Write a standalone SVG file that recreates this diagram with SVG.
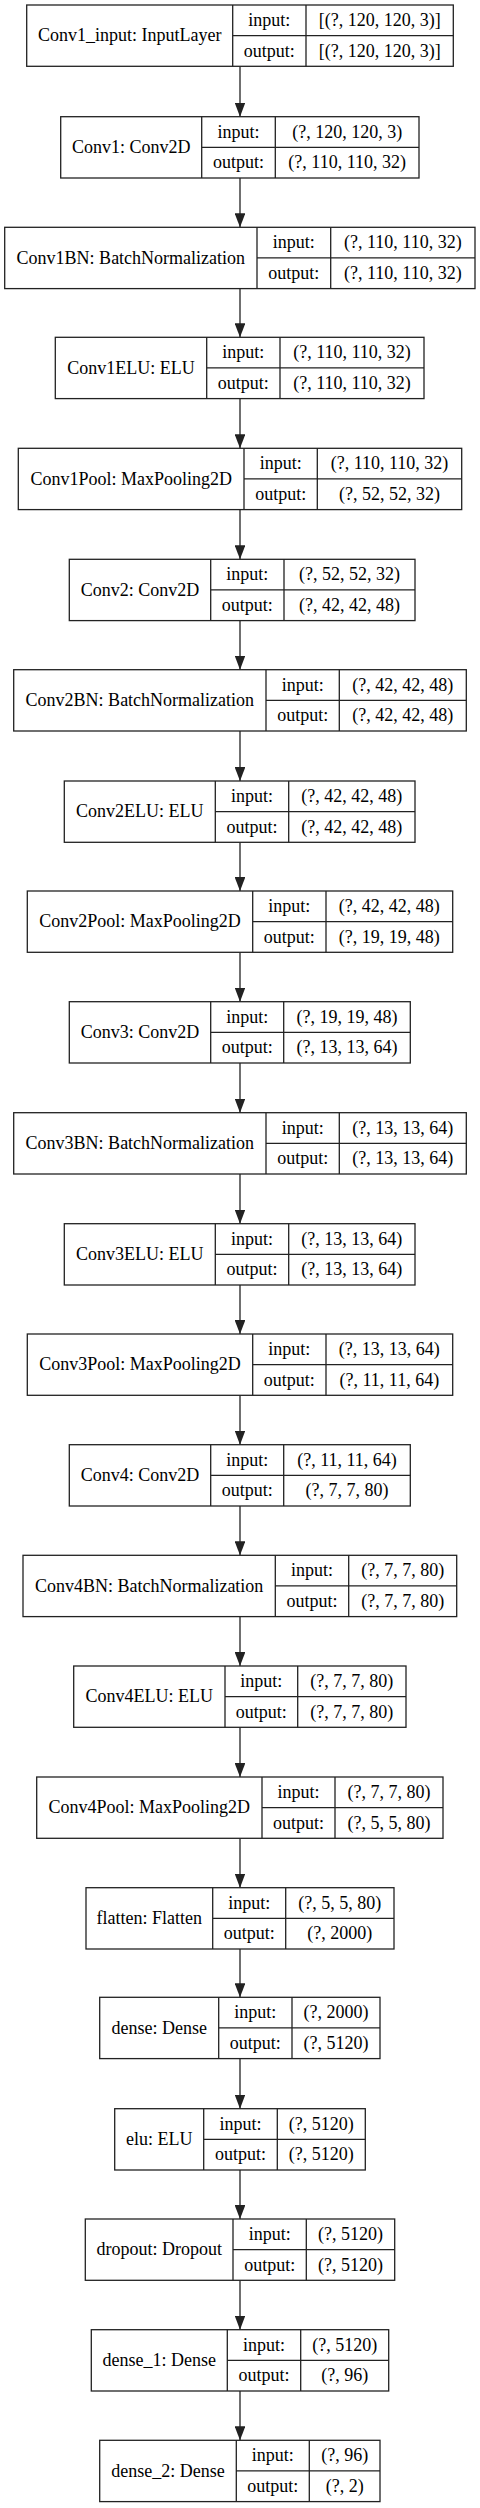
<svg xmlns="http://www.w3.org/2000/svg" width="480" height="2508" viewBox="0 0 480 2508">
<style>
.node rect{fill:#fff;stroke:#222;stroke-width:1.3}
.node path{fill:none;stroke:#222;stroke-width:1.3}
.node text{font-family:"Liberation Serif","Times New Roman",serif;font-size:18px;text-anchor:middle;fill:#000}
.edges line{stroke:#222;stroke-width:1.3}
</style>
<defs>
<marker id="ah" viewBox="0 0 14 10.7" markerWidth="14" markerHeight="10.7" refX="14" refY="5.35" orient="auto" markerUnits="userSpaceOnUse">
<path d="M0,0 L14,5.35 L0,10.7 Z" fill="#222"/>
</marker>
</defs>
<rect x="0" y="0" width="480" height="2508" fill="#fff"/>
<g class="edges">
<line x1="240" y1="66.3" x2="240" y2="116.7" marker-end="url(#ah)"/>
<line x1="240" y1="178" x2="240" y2="227.3" marker-end="url(#ah)"/>
<line x1="240" y1="288.6" x2="240" y2="337.3" marker-end="url(#ah)"/>
<line x1="240" y1="398.6" x2="240" y2="448.3" marker-end="url(#ah)"/>
<line x1="240" y1="509.6" x2="240" y2="559.3" marker-end="url(#ah)"/>
<line x1="240" y1="620.6" x2="240" y2="669.7" marker-end="url(#ah)"/>
<line x1="240" y1="731" x2="240" y2="781" marker-end="url(#ah)"/>
<line x1="240" y1="842.3" x2="240" y2="891" marker-end="url(#ah)"/>
<line x1="240" y1="952.3" x2="240" y2="1001.7" marker-end="url(#ah)"/>
<line x1="240" y1="1063" x2="240" y2="1112.7" marker-end="url(#ah)"/>
<line x1="240" y1="1174" x2="240" y2="1223.7" marker-end="url(#ah)"/>
<line x1="240" y1="1285" x2="240" y2="1334" marker-end="url(#ah)"/>
<line x1="240" y1="1395.3" x2="240" y2="1444.7" marker-end="url(#ah)"/>
<line x1="240" y1="1506" x2="240" y2="1555.3" marker-end="url(#ah)"/>
<line x1="240" y1="1616.6" x2="240" y2="1666" marker-end="url(#ah)"/>
<line x1="240" y1="1727.3" x2="240" y2="1777" marker-end="url(#ah)"/>
<line x1="240" y1="1838.3" x2="240" y2="1887.7" marker-end="url(#ah)"/>
<line x1="240" y1="1949" x2="240" y2="1997.3" marker-end="url(#ah)"/>
<line x1="240" y1="2058.6" x2="240" y2="2108.7" marker-end="url(#ah)"/>
<line x1="240" y1="2170" x2="240" y2="2219" marker-end="url(#ah)"/>
<line x1="240" y1="2280.3" x2="240" y2="2329.7" marker-end="url(#ah)"/>
<line x1="240" y1="2391" x2="240" y2="2440.3" marker-end="url(#ah)"/>
</g>
<g id="n1" class="node"><rect x="26.7" y="5" width="426.6" height="61.3"/><path d="M232.7 5V66.3M232.7 35.65H453.3M306 5V66.3"/><text x="129.7" y="41.45">Conv1_input: InputLayer</text><text x="269.35" y="26.15">input:</text><text x="379.65" y="26.15">[(?, 120, 120, 3)]</text><text x="269.35" y="56.75">output:</text><text x="379.65" y="56.75">[(?, 120, 120, 3)]</text></g>
<g id="n2" class="node"><rect x="60.7" y="116.7" width="358.3" height="61.3"/><path d="M201.7 116.7V178M201.7 147.35H419M275.3 116.7V178"/><text x="131.2" y="153.15">Conv1: Conv2D</text><text x="238.5" y="137.85">input:</text><text x="347.15" y="137.85">(?, 120, 120, 3)</text><text x="238.5" y="168.45">output:</text><text x="347.15" y="168.45">(?, 110, 110, 32)</text></g>
<g id="n3" class="node"><rect x="4.7" y="227.3" width="470.3" height="61.3"/><path d="M257 227.3V288.6M257 257.95H475M330.7 227.3V288.6"/><text x="130.85" y="263.75">Conv1BN: BatchNormalization</text><text x="293.85" y="248.45">input:</text><text x="402.85" y="248.45">(?, 110, 110, 32)</text><text x="293.85" y="279.05">output:</text><text x="402.85" y="279.05">(?, 110, 110, 32)</text></g>
<g id="n4" class="node"><rect x="55.3" y="337.3" width="368.7" height="61.3"/><path d="M206.7 337.3V398.6M206.7 367.95H424M280 337.3V398.6"/><text x="131" y="373.75">Conv1ELU: ELU</text><text x="243.35" y="358.45">input:</text><text x="352" y="358.45">(?, 110, 110, 32)</text><text x="243.35" y="389.05">output:</text><text x="352" y="389.05">(?, 110, 110, 32)</text></g>
<g id="n5" class="node"><rect x="18.3" y="448.3" width="443.4" height="61.3"/><path d="M244 448.3V509.6M244 478.95H461.7M317.3 448.3V509.6"/><text x="131.15" y="484.75">Conv1Pool: MaxPooling2D</text><text x="280.65" y="469.45">input:</text><text x="389.5" y="469.45">(?, 110, 110, 32)</text><text x="280.65" y="500.05">output:</text><text x="389.5" y="500.05">(?, 52, 52, 32)</text></g>
<g id="n6" class="node"><rect x="69.3" y="559.3" width="345.7" height="61.3"/><path d="M210.7 559.3V620.6M210.7 589.95H415M284 559.3V620.6"/><text x="140" y="595.75">Conv2: Conv2D</text><text x="247.35" y="580.45">input:</text><text x="349.5" y="580.45">(?, 52, 52, 32)</text><text x="247.35" y="611.05">output:</text><text x="349.5" y="611.05">(?, 42, 42, 48)</text></g>
<g id="n7" class="node"><rect x="13.7" y="669.7" width="452.6" height="61.3"/><path d="M266 669.7V731M266 700.35H466.3M339.3 669.7V731"/><text x="139.85" y="706.15">Conv2BN: BatchNormalization</text><text x="302.65" y="690.85">input:</text><text x="402.8" y="690.85">(?, 42, 42, 48)</text><text x="302.65" y="721.45">output:</text><text x="402.8" y="721.45">(?, 42, 42, 48)</text></g>
<g id="n8" class="node"><rect x="64.3" y="781" width="350.7" height="61.3"/><path d="M215.3 781V842.3M215.3 811.65H415M288.7 781V842.3"/><text x="139.8" y="817.45">Conv2ELU: ELU</text><text x="252" y="802.15">input:</text><text x="351.85" y="802.15">(?, 42, 42, 48)</text><text x="252" y="832.75">output:</text><text x="351.85" y="832.75">(?, 42, 42, 48)</text></g>
<g id="n9" class="node"><rect x="27.3" y="891" width="425.4" height="61.3"/><path d="M252.7 891V952.3M252.7 921.65H452.7M326 891V952.3"/><text x="140" y="927.45">Conv2Pool: MaxPooling2D</text><text x="289.35" y="912.15">input:</text><text x="389.35" y="912.15">(?, 42, 42, 48)</text><text x="289.35" y="942.75">output:</text><text x="389.35" y="942.75">(?, 19, 19, 48)</text></g>
<g id="n10" class="node"><rect x="69.3" y="1001.7" width="341" height="61.3"/><path d="M210.7 1001.7V1063M210.7 1032.35H410.3M283.7 1001.7V1063"/><text x="140" y="1038.15">Conv3: Conv2D</text><text x="247.2" y="1022.85">input:</text><text x="347" y="1022.85">(?, 19, 19, 48)</text><text x="247.2" y="1053.45">output:</text><text x="347" y="1053.45">(?, 13, 13, 64)</text></g>
<g id="n11" class="node"><rect x="13.7" y="1112.7" width="452.6" height="61.3"/><path d="M266 1112.7V1174M266 1143.35H466.3M339.3 1112.7V1174"/><text x="139.85" y="1149.15">Conv3BN: BatchNormalization</text><text x="302.65" y="1133.85">input:</text><text x="402.8" y="1133.85">(?, 13, 13, 64)</text><text x="302.65" y="1164.45">output:</text><text x="402.8" y="1164.45">(?, 13, 13, 64)</text></g>
<g id="n12" class="node"><rect x="64.3" y="1223.7" width="350.7" height="61.3"/><path d="M215.3 1223.7V1285M215.3 1254.35H415M288.7 1223.7V1285"/><text x="139.8" y="1260.15">Conv3ELU: ELU</text><text x="252" y="1244.85">input:</text><text x="351.85" y="1244.85">(?, 13, 13, 64)</text><text x="252" y="1275.45">output:</text><text x="351.85" y="1275.45">(?, 13, 13, 64)</text></g>
<g id="n13" class="node"><rect x="27.3" y="1334" width="425.4" height="61.3"/><path d="M252.7 1334V1395.3M252.7 1364.65H452.7M326 1334V1395.3"/><text x="140" y="1370.45">Conv3Pool: MaxPooling2D</text><text x="289.35" y="1355.15">input:</text><text x="389.35" y="1355.15">(?, 13, 13, 64)</text><text x="289.35" y="1385.75">output:</text><text x="389.35" y="1385.75">(?, 11, 11, 64)</text></g>
<g id="n14" class="node"><rect x="69.3" y="1444.7" width="341" height="61.3"/><path d="M210.7 1444.7V1506M210.7 1475.35H410.3M283.7 1444.7V1506"/><text x="140" y="1481.15">Conv4: Conv2D</text><text x="247.2" y="1465.85">input:</text><text x="347" y="1465.85">(?, 11, 11, 64)</text><text x="247.2" y="1496.45">output:</text><text x="347" y="1496.45">(?, 7, 7, 80)</text></g>
<g id="n15" class="node"><rect x="23" y="1555.3" width="433.7" height="61.3"/><path d="M275.3 1555.3V1616.6M275.3 1585.95H456.7M348.7 1555.3V1616.6"/><text x="149.15" y="1591.75">Conv4BN: BatchNormalization</text><text x="312" y="1576.45">input:</text><text x="402.7" y="1576.45">(?, 7, 7, 80)</text><text x="312" y="1607.05">output:</text><text x="402.7" y="1607.05">(?, 7, 7, 80)</text></g>
<g id="n16" class="node"><rect x="73.7" y="1666" width="332.3" height="61.3"/><path d="M225 1666V1727.3M225 1696.65H406M297.7 1666V1727.3"/><text x="149.35" y="1702.45">Conv4ELU: ELU</text><text x="261.35" y="1687.15">input:</text><text x="351.85" y="1687.15">(?, 7, 7, 80)</text><text x="261.35" y="1717.75">output:</text><text x="351.85" y="1717.75">(?, 7, 7, 80)</text></g>
<g id="n17" class="node"><rect x="36.7" y="1777" width="406.3" height="61.3"/><path d="M262 1777V1838.3M262 1807.65H443M335 1777V1838.3"/><text x="149.35" y="1813.45">Conv4Pool: MaxPooling2D</text><text x="298.5" y="1798.15">input:</text><text x="389" y="1798.15">(?, 7, 7, 80)</text><text x="298.5" y="1828.75">output:</text><text x="389" y="1828.75">(?, 5, 5, 80)</text></g>
<g id="n18" class="node"><rect x="86" y="1887.7" width="308" height="61.3"/><path d="M212.7 1887.7V1949M212.7 1918.35H394M285.7 1887.7V1949"/><text x="149.35" y="1924.15">flatten: Flatten</text><text x="249.2" y="1908.85">input:</text><text x="339.85" y="1908.85">(?, 5, 5, 80)</text><text x="249.2" y="1939.45">output:</text><text x="339.85" y="1939.45">(?, 2000)</text></g>
<g id="n19" class="node"><rect x="99.7" y="1997.3" width="280.3" height="61.3"/><path d="M218.7 1997.3V2058.6M218.7 2027.95H380M292 1997.3V2058.6"/><text x="159.2" y="2033.75">dense: Dense</text><text x="255.35" y="2018.45">input:</text><text x="336" y="2018.45">(?, 2000)</text><text x="255.35" y="2049.05">output:</text><text x="336" y="2049.05">(?, 5120)</text></g>
<g id="n20" class="node"><rect x="114.7" y="2108.7" width="250.6" height="61.3"/><path d="M203.7 2108.7V2170M203.7 2139.35H365.3M277.3 2108.7V2170"/><text x="159.2" y="2145.15">elu: ELU</text><text x="240.5" y="2129.85">input:</text><text x="321.3" y="2129.85">(?, 5120)</text><text x="240.5" y="2160.45">output:</text><text x="321.3" y="2160.45">(?, 5120)</text></g>
<g id="n21" class="node"><rect x="85.3" y="2219" width="309.4" height="61.3"/><path d="M233 2219V2280.3M233 2249.65H394.7M306.3 2219V2280.3"/><text x="159.15" y="2255.45">dropout: Dropout</text><text x="269.65" y="2240.15">input:</text><text x="350.5" y="2240.15">(?, 5120)</text><text x="269.65" y="2270.75">output:</text><text x="350.5" y="2270.75">(?, 5120)</text></g>
<g id="n22" class="node"><rect x="91.3" y="2329.7" width="297.4" height="61.3"/><path d="M227.3 2329.7V2391M227.3 2360.35H388.7M300.7 2329.7V2391"/><text x="159.3" y="2366.15">dense_1: Dense</text><text x="264" y="2350.85">input:</text><text x="344.7" y="2350.85">(?, 5120)</text><text x="264" y="2381.45">output:</text><text x="344.7" y="2381.45">(?, 96)</text></g>
<g id="n23" class="node"><rect x="99.7" y="2440.3" width="280.3" height="61.3"/><path d="M236.3 2440.3V2501.6M236.3 2470.95H380M309.3 2440.3V2501.6"/><text x="168" y="2476.75">dense_2: Dense</text><text x="272.8" y="2461.45">input:</text><text x="344.65" y="2461.45">(?, 96)</text><text x="272.8" y="2492.05">output:</text><text x="344.65" y="2492.05">(?, 2)</text></g>
</svg>
